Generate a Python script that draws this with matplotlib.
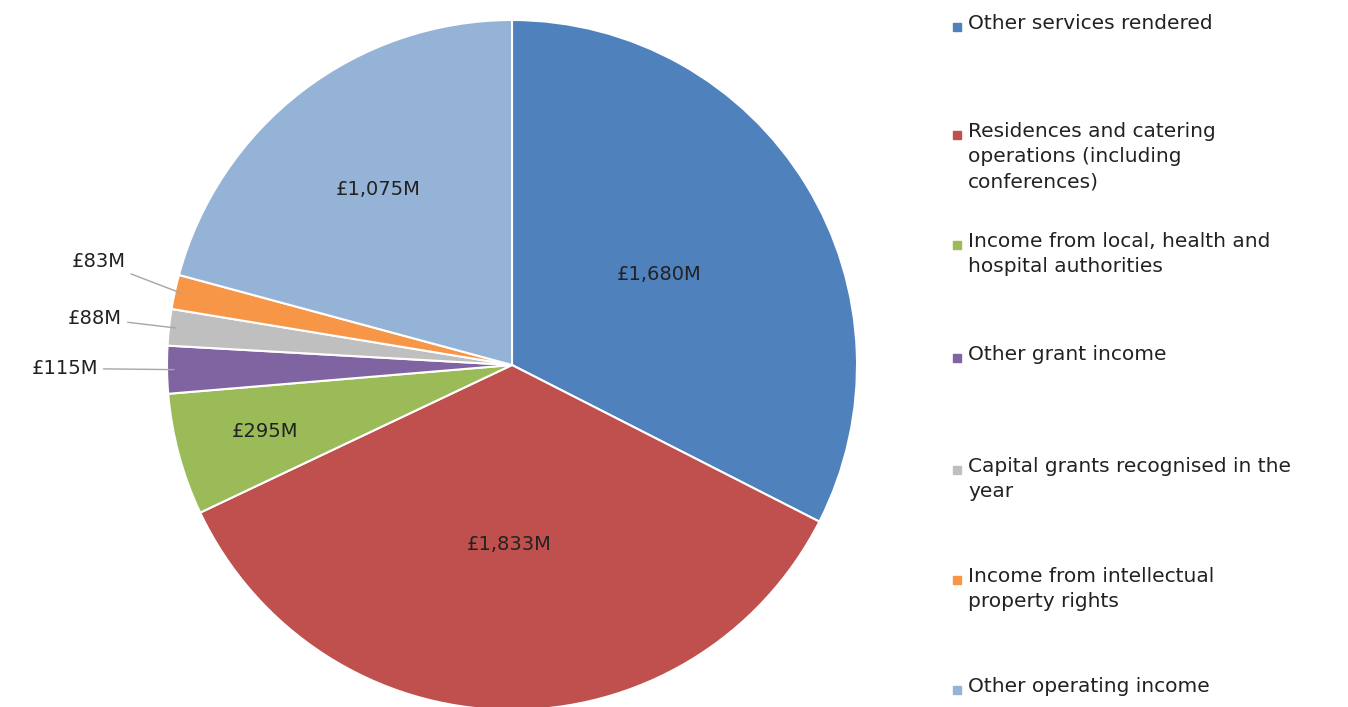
import matplotlib
matplotlib.use("Agg")
import matplotlib.pyplot as plt
from matplotlib.patches import Rectangle
import numpy as np

plt.rcParams['font.family'] = ['DejaVu Sans']

categories = ["Other services rendered",
              "Residences and catering\noperations (including\nconferences)",
              "Income from local, health and\nhospital authorities",
              "Other grant income",
              "Capital grants recognised in the\nyear",
              "Income from intellectual\nproperty rights",
              "Other operating income"]
values = [1680, 1833, 295, 115, 88, 83, 1075]
labels = ["£1,680M", "£1,833M", "£295M", "£115M", "£88M", "£83M", "£1,075M"]
colors = ["#4F81BD", "#C0504D", "#9BBB59", "#8064A2", "#BFBFBF", "#F79646", "#95B3D7"]

W, H = 1348, 707
fig = plt.figure(figsize=(W/100, H/100), dpi=100)
r_px = 345
cx, cy = 512, 365
ax = fig.add_axes([(cx - r_px)/W, 1 - (cy + r_px)/H, 2*r_px/W, 2*r_px/H])
wedges, _ = ax.pie(values, colors=colors, startangle=90, counterclock=False,
                   wedgeprops=dict(edgecolor="white", linewidth=1.5))
ax.set_xlim(-1, 1); ax.set_ylim(-1, 1); ax.set_aspect("equal")
ax.axis("off")

fs = 14
inside_r = {0: 0.5, 1: 0.52, 2: 0.74, 6: 0.64}
outside_pos = {3: (-1.20, -0.01), 4: (-1.13, 0.135), 5: (-1.12, 0.30)}
for i, w in enumerate(wedges):
    ang = np.deg2rad((w.theta1 + w.theta2) / 2)
    if i in inside_r:
        r = inside_r[i]
        ax.text(r*np.cos(ang), r*np.sin(ang), labels[i], ha="center", va="center",
                fontsize=fs, color="#222222")
    else:
        tx, ty = outside_pos[i]
        ex, ey = np.cos(ang)*0.98, np.sin(ang)*0.98
        ax.annotate(labels[i], xy=(ex, ey), xytext=(tx, ty), ha="right", va="center",
                    fontsize=fs, color="#222222", annotation_clip=False,
                    arrowprops=dict(arrowstyle="-", color="#A6A6A6", lw=1,
                                    shrinkA=2, shrinkB=0))

ys = [27, 135, 245, 358, 470, 580, 690]
for c, lab, y in zip(colors, categories, ys):
    fig.patches.append(Rectangle((953/W, 1 - (y + 4)/H), 8/W, 8/H, color=c,
                                 transform=fig.transFigure, figure=fig))
    fig.text(968/W, 1 - (y - 13)/H, lab, ha="left", va="top", fontsize=14.5,
             color="#222222", linespacing=1.4)

fig.savefig("out.png", dpi=100)
